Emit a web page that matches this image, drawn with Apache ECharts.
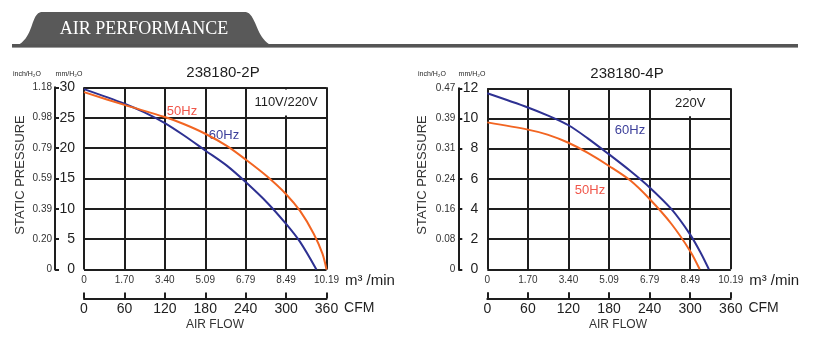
<!DOCTYPE html>
<html><head><meta charset="utf-8">
<script src="https://cdn.jsdelivr.net/npm/echarts@6/dist/echarts.min.js"></script>
<style>html,body{margin:0;padding:0;background:#fff}#c{width:813px;height:347px}</style>
</head><body><div id="c"></div>
<script>
// ---- data ----
const cfmLabels = ['0','60','120','180','240','300','360'];
const m3Labels = ['0','1.70','3.40','5.09','6.79','8.49','10.19'];
const mm2P = ['0','5','10','15','20','25','30'];
const inch2P = ['0','0.20','0.39','0.59','0.79','0.98','1.18'];
const mm4P = ['0','2','4','6','8','10','12'];
const inch4P = ['0','0.08','0.16','0.24','0.31','0.39','0.47'];

// 238180-2P
const cfm2P_60 = [0, 60, 89, 120, 148, 180, 212, 240, 272, 300, 321, 345];
const p2P_60   = [29.7, 27.3, 25.9, 24.1, 22.1, 19.6, 17.1, 14.4, 11.0, 7.5, 4.5, 0];
const cfm2P_50 = [0, 60, 120, 148, 180, 212, 240, 272, 300, 321, 341, 354, 360];
const p2P_50   = [29.2, 27.1, 25.1, 23.95, 22.35, 20.35, 18.1, 15.3, 12.4, 9.6, 5.9, 2.6, 0];
// 238180-4P
const cfm4P_60 = [0, 60, 89, 120, 148, 180, 212, 240, 272, 300, 316, 327.6];
const p4P_60   = [11.67, 10.73, 10.2, 9.55, 8.7, 7.62, 6.5, 5.43, 4.0, 2.3, 1.05, 0];
const cfm4P_50 = [0, 60, 89, 120, 148, 180, 212, 240, 272, 300, 314];
const p4P_50   = [9.74, 9.26, 8.93, 8.39, 7.73, 6.85, 5.87, 4.66, 3.02, 1.2, 0];

const titles = ['238180-2P', '238180-4P'];
const voltages = ['110V/220V', '220V'];
const freqNames = ['60Hz', '50Hz'];

// ---- style ----
const SANS = "'Liberation Sans', Arial, Helvetica, sans-serif";
const INK = '#1e1e1e';
const BLUE = '#2e3192';
const ORANGE = '#f26522';
const BLUE_T = '#3c3f9a';
const RED_T = '#f0564a';

const zip = (a, b) => a.map((v, i) => [v, b[i]]);

const charts = [
  { grid: {left: 84, top: 87.3, width: 242.5, height: 182.2}, ymax: 30, yint: 5, mm: mm2P, inch: inch2P,
    s60: zip(cfm2P_60, p2P_60), s50: zip(cfm2P_50, p2P_50),
    box: [242.5, 25.35, 357.5, 29.65],
    lab60: [207.8, 22.1], lab50: [145.5, 26.1] },
  { grid: {left: 487.3, top: 88.3, width: 243.5, height: 181}, ymax: 12, yint: 2, mm: mm4P, inch: inch4P,
    s60: zip(cfm4P_60, p4P_60), s50: zip(cfm4P_50, p4P_50),
    box: [242.5, 10.14, 357.5, 11.86],
    lab60: [211, 9.24], lab50: [151.8, 5.26] }
];

const grid = [], xAxis = [], yAxis = [], series = [];
charts.forEach((c, i) => {
  grid.push(Object.assign({containLabel: false}, c.grid));
  xAxis.push({
    gridIndex: i, type: 'value', min: 0, max: 360, interval: 60, position: 'bottom', offset: 29,
    axisLine: {show: true, onZero: false, lineStyle: {color: INK, width: 2}},
    axisTick: {show: true, inside: true, length: 6, lineStyle: {color: INK, width: 2}},
    axisLabel: {fontSize: 14, fontFamily: SANS, color: INK, margin: 4,
      formatter: v => cfmLabels[Math.round(v / 60)]},
    splitLine: {show: true, lineStyle: {color: INK, width: 2}},
    name: 'CFM', nameLocation: 'end', nameGap: 16,
    nameTextStyle: {fontSize: 14, fontFamily: SANS, color: INK, verticalAlign: 'top', lineHeight: 14, padding: [3, 0, 0, 0]}
  });
  xAxis.push({
    gridIndex: i, type: 'value', min: 0, max: 360, interval: 60, position: 'bottom', offset: 0,
    axisLine: {show: false, onZero: false}, axisTick: {show: false}, splitLine: {show: false},
    axisLabel: {fontSize: 10, fontFamily: SANS, color: '#333', margin: 6,
      formatter: v => m3Labels[Math.round(v / 60)]},
    name: 'm³ /min', nameLocation: 'end', nameGap: 15,
    nameTextStyle: {fontSize: 15, fontFamily: SANS, color: INK, verticalAlign: 'top', lineHeight: 15, padding: [4, 0, 0, 0]}
  });
  yAxis.push({
    gridIndex: i, type: 'value', min: 0, max: c.ymax, interval: c.yint, position: 'left', offset: 29,
    axisLine: {show: true, onZero: false, lineStyle: {color: INK, width: 2}},
    axisTick: {show: true, inside: true, length: 4, lineStyle: {color: INK, width: 2}},
    axisLabel: {inside: true, align: 'right', margin: 20, fontSize: 14, fontFamily: SANS, color: INK,
      formatter: v => c.mm[Math.round(v / c.yint)]},
    splitLine: {show: true, lineStyle: {color: INK, width: 2}}
  });
  yAxis.push({
    gridIndex: i, type: 'value', min: 0, max: c.ymax, interval: c.yint, position: 'left', offset: 29,
    axisLine: {show: false, onZero: false}, axisTick: {show: false}, splitLine: {show: false},
    axisLabel: {margin: 3, fontSize: 10, fontFamily: SANS, color: '#333',
      formatter: v => c.inch[Math.round(v / c.yint)]}
  });
  const xi = i * 2, yi = i * 2;
  series.push({
    type: 'line', name: freqNames[0], xAxisIndex: xi, yAxisIndex: yi, data: c.s60, smooth: 0.3,
    symbol: 'none', lineStyle: {color: BLUE, width: 2}, z: 5,
    markArea: {silent: true, itemStyle: {color: '#fff', borderWidth: 0},
      label: {show: true, position: 'inside', formatter: voltages[i], fontSize: 13, fontFamily: SANS, color: INK},
      data: [[{xAxis: c.box[0], yAxis: c.box[1]}, {xAxis: c.box[2], yAxis: c.box[3]}]]},
    markPoint: {silent: true, symbol: 'circle', symbolSize: 1, itemStyle: {color: 'rgba(0,0,0,0)'},
      label: {show: true, position: 'inside', formatter: freqNames[0], fontSize: 13, fontFamily: SANS, color: BLUE_T},
      data: [{coord: c.lab60}]}
  });
  series.push({
    type: 'line', name: freqNames[1], xAxisIndex: xi, yAxisIndex: yi, data: c.s50, smooth: 0.3,
    symbol: 'none', lineStyle: {color: ORANGE, width: 2}, z: 5,
    markPoint: {silent: true, symbol: 'circle', symbolSize: 1, itemStyle: {color: 'rgba(0,0,0,0)'},
      label: {show: true, position: 'inside', formatter: freqNames[1], fontSize: 13, fontFamily: SANS, color: RED_T},
      data: [{coord: c.lab50}]}
  });
});

// header tab outline (decoration)
function bez(p0, p1, p2, p3, n) {
  const out = [];
  for (let k = 1; k <= n; k++) {
    const t = k / n, u = 1 - t;
    out.push([u*u*u*p0[0] + 3*u*u*t*p1[0] + 3*u*t*t*p2[0] + t*t*t*p3[0],
              u*u*u*p0[1] + 3*u*u*t*p1[1] + 3*u*t*t*p2[1] + t*t*t*p3[1]]);
  }
  return out;
}
const tab = [[12, 47]]
  .concat(bez([12,47],[24,45],[29,34],[32,25], 12))
  .concat(bez([32,25],[35,16],[37,12],[43,12], 12))
  .concat([[244,12]])
  .concat(bez([244,12],[250,12],[252,16],[256,25], 12))
  .concat(bez([256,25],[260,35],[265,45],[277,47], 12));

const T = (x, y, text, size, fill, extra) => Object.assign({type: 'text', x, y,
  style: {text, fill, fontSize: size, fontFamily: SANS, align: 'center', verticalAlign: 'middle'}}, extra || {});

const graphic = [
  {type: 'polygon', shape: {points: tab}, style: {fill: '#595959'}},
  {type: 'rect', shape: {x: 12, y: 44, width: 786, height: 3}, style: {fill: '#555'}},
  {type: 'rect', shape: {x: 12, y: 47, width: 786, height: 1}, style: {fill: '#9a9a9a'}},
  {type: 'text', x: 144, y: 29, style: {text: 'AIR PERFORMANCE', fill: '#fff', fontSize: 18,
    fontFamily: "'Liberation Serif','DejaVu Serif',serif", align: 'center', verticalAlign: 'middle'}},
  T(223, 72.5, titles[0], 15, INK),
  T(627, 73.5, titles[1], 15, INK),
  T(27, 74, 'inch/H₂O', 7, INK),
  T(69, 74, 'mm/H₂O', 7, INK),
  T(432, 74, 'inch/H₂O', 7, INK),
  T(472, 74, 'mm/H₂O', 7, INK),
  T(20.5, 175, 'STATIC PRESSURE', 13, '#333', {rotation: Math.PI / 2}),
  T(422.5, 175, 'STATIC PRESSURE', 13, '#333', {rotation: Math.PI / 2}),
  T(215, 325, 'AIR FLOW', 12, '#333'),
  T(618, 325, 'AIR FLOW', 12, '#333')
];

const chart = echarts.init(document.getElementById('c'), null, {renderer: 'canvas'});
chart.setOption({animation: false, backgroundColor: '#fff', grid, xAxis, yAxis, series, graphic});
</script>
</body></html>
